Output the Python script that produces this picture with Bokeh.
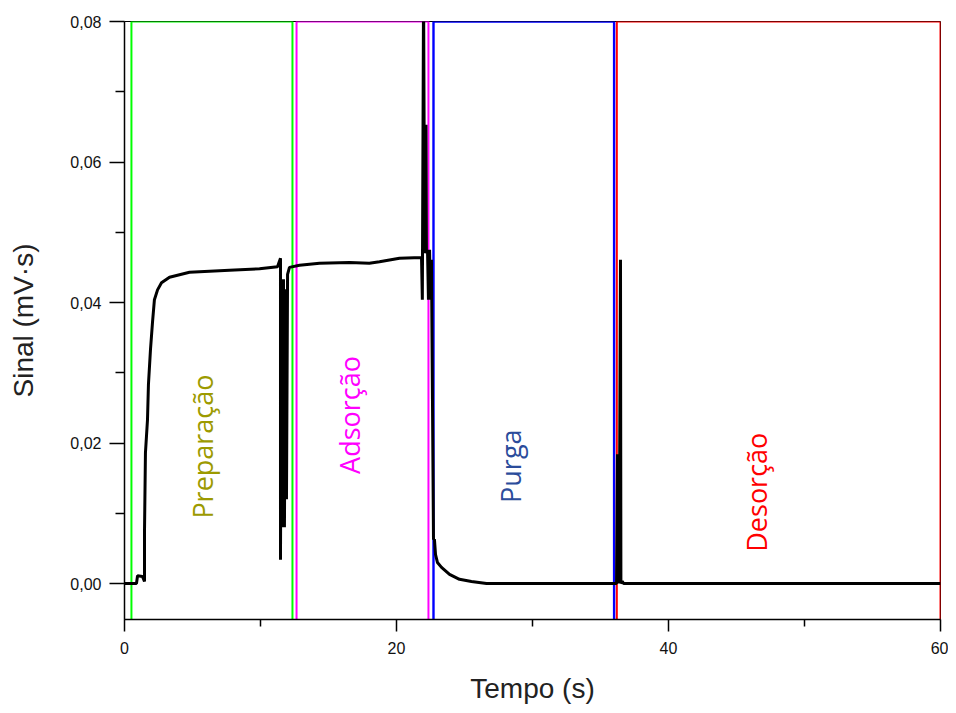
import math
from bokeh.plotting import figure
from bokeh.models import Range1d, FixedTicker, CustomJSTickFormatter, ColumnDataSource
from bokeh.core.properties import value
from bokeh.embed import file_html
from bokeh.resources import INLINE

# Signal trace (time in s, signal in mV·s)
tempo = [0.0, 0.88, 0.96, 1.32, 1.47, 1.47, 1.54, 1.69, 1.76, 1.91, 2.06, 2.2, 2.43, 2.72,
         3.31, 4.78, 7.72, 9.93, 11.25, 11.47, 11.47, 11.54, 11.62, 11.69, 11.76, 11.84,
         11.91, 11.99, 12.13, 12.87, 14.34, 16.54, 18.0, 18.75, 20.22, 21.84, 21.9, 21.99,
         22.03, 22.06, 22.1, 22.13, 22.17, 22.2, 22.28, 22.35, 22.43, 22.5, 22.57, 22.72,
         22.79, 22.87, 23.01, 23.31, 23.9, 24.63, 25.51, 26.62, 36.18, 36.25, 36.29, 36.33,
         36.37, 36.41, 36.47, 36.5, 36.6, 36.7, 60.0]
sinal = [0.0, 0.0, 0.0011, 0.001, 0.0003, 0.0073, 0.0186, 0.0233, 0.0283, 0.0333, 0.0372,
         0.0404, 0.0418, 0.0428, 0.0436, 0.0443, 0.0446, 0.0448, 0.0451, 0.0463, 0.0034,
         0.0433, 0.008, 0.0433, 0.008, 0.0419, 0.012, 0.044, 0.045, 0.0453, 0.0456, 0.0457,
         0.0456, 0.0458, 0.0463, 0.0464, 0.0404, 0.085, 0.0653, 0.047, 0.0653, 0.047,
         0.0653, 0.047, 0.0475, 0.0404, 0.0475, 0.0404, 0.0461, 0.0063, 0.0063, 0.0041,
         0.003, 0.0023, 0.0013, 0.0006, 0.0003, 0.0, 0.0, 0.0184, 0.0, 0.0184, 0.0,
         0.0184, 0.0461, 0.0, 0.0003, 0.0, 0.0]

# Phases
fases = ["Preparação", "Adsorção", "Purga", "Desorção"]
fase_inicio = [0.51, 12.65, 22.72, 36.2]
fase_fim = [12.35, 22.35, 36.0, 60.0]
fase_cor = ["#00ff00", "#ff00ff", "#0000ff", "#ff0000"]
fase_texto_cor = ["#9c9a00", "#ff00ff", "#2b4c9b", "#ff0000"]
fase_lw = [2, 2, 2.4, 2]

# Phase label anchor positions (data coords)
label_x = [5.74, 16.54, 28.4, 46.5]
label_y = [0.0195, 0.024, 0.0167, 0.013]

y_bottom = -0.00512
y_top = 0.08

p = figure(output_backend="svg", toolbar_location=None,
           frame_width=816, frame_height=598,
           min_border_left=124, min_border_top=21, min_border_right=8, min_border_bottom=84,
           x_range=Range1d(0, 60), y_range=Range1d(y_bottom, y_top))
p.grid.visible = False
p.background_fill_color = "white"
p.border_fill_color = "white"
p.outline_line_color = "black"
p.outline_line_width = 1

# phase rectangles
p.quad(left=fase_inicio, right=fase_fim, bottom=[y_bottom - 0.0004] * 4, top=[y_top] * 4,
       fill_color=None, line_color=fase_cor, line_width=fase_lw)

# signal
p.line(tempo, sinal, line_color="black", line_width=3)

# phase labels
src = ColumnDataSource(dict(x=label_x, y=label_y, t=fases, c=fase_texto_cor))
p.text(x="x", y="y", text="t", text_color="c", source=src, angle=math.pi / 2,
       text_align="center", text_baseline="middle",
       text_font=value("Open Sans"), text_font_size="27px")

fmt = CustomJSTickFormatter(code="return tick.toFixed(2).replace('.', ',');")
xfmt = CustomJSTickFormatter(code="return tick.toFixed(0);")

p.xaxis.ticker = FixedTicker(ticks=[0, 20, 40, 60], minor_ticks=[10, 30, 50])
p.yaxis.ticker = FixedTicker(ticks=[0, 0.02, 0.04, 0.06, 0.08],
                             minor_ticks=[0.01, 0.03, 0.05, 0.07])
p.yaxis.formatter = fmt
p.xaxis.formatter = xfmt

for ax in (p.xaxis, p.yaxis):
    ax.axis_line_color = "black"
    ax.axis_line_width = 1.5
    ax.major_tick_line_color = "black"
    ax.minor_tick_line_color = "black"
    ax.major_tick_line_width = 1.5
    ax.minor_tick_line_width = 1.5
    ax.major_tick_in = 0
    ax.minor_tick_in = 0
    ax.major_label_text_font = "Liberation Sans"
    ax.major_label_text_font_size = "16px"
    ax.major_label_text_color = "#111111"
    ax.axis_label_text_font = "Liberation Sans"
    ax.axis_label_text_font_size = "28px"
    ax.axis_label_text_font_style = "normal"
    ax.axis_label_text_color = "#222222"

p.yaxis.major_tick_out = 15
p.yaxis.minor_tick_out = 9
p.xaxis.major_tick_out = 12
p.xaxis.minor_tick_out = 7
p.yaxis.major_label_standoff = 8
p.xaxis.major_label_standoff = 10
p.yaxis.axis_label_standoff = 28
p.xaxis.axis_label_standoff = 16
p.yaxis.axis_label = "Sinal (mV·s)"
p.xaxis.axis_label = "Tempo (s)"

open("out.html", "w").write(file_html(p, INLINE))
